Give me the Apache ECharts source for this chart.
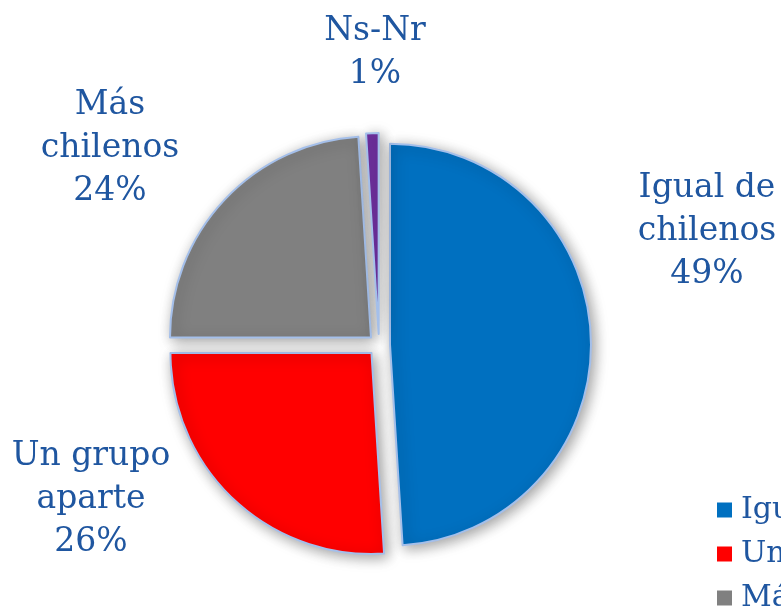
<!DOCTYPE html>
<html>
<head>
<meta charset="utf-8">
<script src="https://cdn.jsdelivr.net/npm/echarts@6/dist/echarts.min.js"></script>
<style>
  html, body { margin: 0; padding: 0; background: #ffffff; overflow: hidden; }
  #chart { width: 781px; height: 611px; }
</style>
</head>
<body>
<div id="chart"></div>
<script>
// categorias y porcentajes
var categorias = ['Igual de chilenos', 'Un grupo aparte', 'Más chilenos', 'Ns-Nr']
var etiquetas = ['Igual de\nchilenos', 'Un grupo\naparte', 'Más\nchilenos', 'Ns-Nr']
var valores = [49, 26, 24, 1]
var colores = ['#0070C0', '#FF0000', '#808080', '#7030A0']

// donde va el centro de cada etiqueta
var labelPos = [[707, 231], [91, 499], [110, 148], [375, 53]]

var myChart = echarts.init(document.getElementById('chart'))

var option = {
  color: colores,
  animation: false,
  legend: {
    orient: 'vertical',
    left: 712,
    top: 490,
    height: 300,
    itemWidth: 15,
    itemHeight: 15,
    itemGap: 14,
    icon: 'rect',
    selectedMode: false,
    itemStyle: { borderWidth: 0, shadowBlur: 0, shadowOffsetX: 0, shadowOffsetY: 0 },
    textStyle: {
      fontFamily: 'DejaVu Serif',
      fontSize: 30,
      lineHeight: 30,
      padding: [0, 0, 0, 4],
      color: '#1f56a0'
    },
    data: categorias
  },
  series: [{
    // porciones separadas
    type: 'pie',
    center: [379, 345],
    radius: 201,
    startAngle: 90,
    selectedMode: 'multiple',
    selectedOffset: 11,
    emphasis: { disabled: true },
    itemStyle: {
      borderColor: '#a4bfea',
      borderWidth: 2,
      shadowBlur: 14,
      shadowColor: 'rgba(0, 0, 0, 0.38)',
      shadowOffsetX: 3,
      shadowOffsetY: 3
    },
    label: { show: false },
    labelLine: { show: false },
    data: categorias.map(function (c, i) {
      return { name: c, value: valores[i], selected: true }
    })
  }, {
    // solo etiquetas
    type: 'pie',
    center: [379, 345],
    radius: 201,
    startAngle: 90,
    silent: true,
    selectedMode: false,
    avoidLabelOverlap: false,
    emphasis: { disabled: true },
    itemStyle: { color: 'rgba(0,0,0,0)', borderWidth: 0 },
    label: {
      show: true,
      position: 'outside',
      fontFamily: 'DejaVu Serif',
      fontSize: 33,
      lineHeight: 43,
      color: '#1f56a0',
      formatter: function (p) {
        return etiquetas[p.dataIndex] + '\n' + p.value + '%'
      }
    },
    labelLine: { show: false },
    labelLayout: function (p) {
      var pos = labelPos[p.dataIndex]
      return { x: pos[0], y: pos[1], align: 'center', verticalAlign: 'middle' }
    },
    data: categorias.map(function (c, i) {
      return { name: c, value: valores[i] }
    })
  }]
}

myChart.setOption(option)
</script>
</body>
</html>
